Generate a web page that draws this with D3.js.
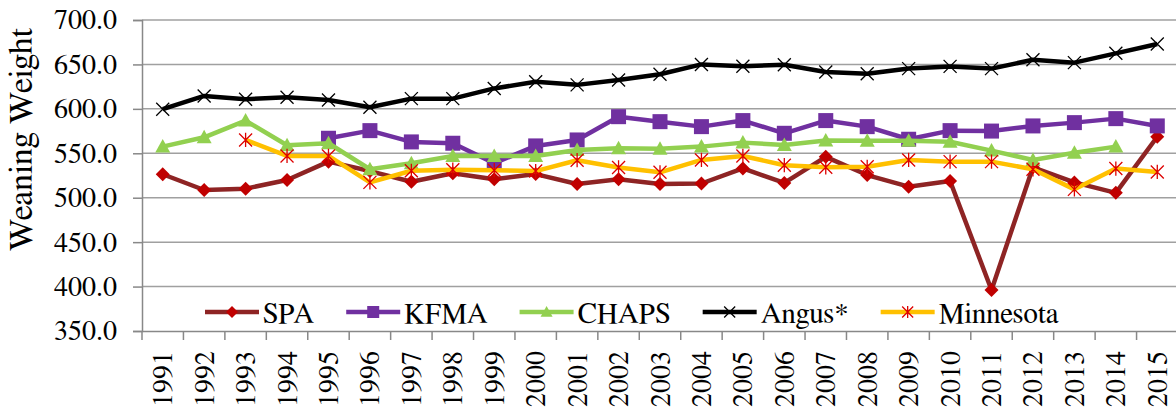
<!DOCTYPE html>
<html>
<head>
<meta charset="utf-8">
<script src="https://cdn.jsdelivr.net/npm/d3@7"></script>
</head>
<body style="margin:0">
<svg id="chart" width="1176" height="409" style="display:block"></svg>
<script>
// values
const years = ["1991","1992","1993","1994","1995","1996","1997","1998","1999","2000","2001","2002","2003",
  "2004","2005","2006","2007","2008","2009","2010","2011","2012","2013","2014","2015"];
const yTicks = [350, 400, 450, 500, 550, 600, 650, 700];

const spa = [526.4, 508.7, 510.2, 520.0, 540.6, 530.0, 518.0, 527.5, 520.7, 526.6, 515.4, 520.7, 515.4,
  516.0, 533.0, 516.7, 546.0, 525.5, 512.4, 518.8, 396.2, 534.2, 517.2, 505.5, 568.6];
const kfma = [null, null, null, null, 566.9, 575.5, 562.8, 561.3, 538.8, 558.3, 565.0, 591.2, 585.6,
  580.0, 586.8, 572.5, 586.8, 580.0, 565.8, 575.5, 575.0, 580.8, 584.5, 589.0, 580.8];
const chaps = [557.5, 568.0, 586.8, 559.0, 561.3, 532.0, 538.8, 547.0, 547.0, 547.0, 553.6, 555.6, 555.0,
  557.5, 562.0, 559.4, 564.5, 564.0, 564.0, 563.0, 553.0, 542.5, 550.7, 557.5, null];
const angus = [599.6, 614.5, 610.8, 613.0, 610.0, 601.8, 611.5, 611.5, 623.0, 630.6, 627.0, 632.5, 639.0,
  650.0, 648.0, 649.7, 641.5, 639.6, 645.3, 647.8, 645.3, 655.3, 652.0, 662.5, 673.0];
const minnesota = [null, null, 565.0, 547.0, 547.0, 517.3, 530.3, 531.5, 531.0, 530.0, 542.2, 534.0, 528.6,
  542.5, 547.0, 536.6, 534.2, 534.8, 542.5, 540.6, 540.6, 532.0, 509.4, 532.8, 529.0];

const series = [
  { name: "SPA", values: spa, line: "#8e2424", marker: "diamond", fill: "#c00000" },
  { name: "KFMA", values: kfma, line: "#7030a0", marker: "square", fill: "#7030a0" },
  { name: "CHAPS", values: chaps, line: "#92d050", marker: "triangle", fill: "#92d050" },
  { name: "Angus*", values: angus, line: "#000000", marker: "x", fill: "#000000" },
  { name: "Minnesota", values: minnesota, line: "#ffc000", marker: "star", fill: "#dd0000" }
];

const FONT = '"FreeSerif", "Liberation Serif", "Times New Roman"';

// canvas used to activate the font and to measure legend labels
const ctx = document.createElement("canvas").getContext("2d");
[28, 29, 34].forEach(sz => { ctx.font = `${sz}px ${FONT}`; ctx.measureText("Weaning Weight 700.0 1991 SPA"); });

const setFont = (sel, size) => sel
  .style("font-family", FONT, "important")
  .style("font-size", size + "px", "important")
  .attr("fill", "#000");

const svg = d3.select("#chart");
const plot = { left: 142, right: 1178, top: 20, bottom: 331 };

const x = d3.scaleBand().domain(years).range([plot.left, plot.right]).padding(0);
const y = d3.scaleLinear().domain([350, 700]).range([plot.bottom, plot.top]);
const cx = d => x(d) + x.bandwidth() / 2;

// gridlines
svg.append("g")
  .selectAll("line")
  .data(yTicks.filter(v => v > 350))
  .enter().append("line")
  .attr("x1", plot.left).attr("x2", plot.right)
  .attr("y1", d => y(d)).attr("y2", d => y(d))
  .attr("stroke", "#a0a0a0").attr("stroke-width", 1.5);

// y axis
const yAxis = svg.append("g")
  .attr("transform", `translate(${plot.left},0)`)
  .call(d3.axisLeft(y).tickValues(yTicks).tickFormat(d3.format(".1f")).tickSize(9).tickPadding(16));
yAxis.attr("font-family", null).attr("font-size", null);
yAxis.select(".domain").attr("stroke", "#888").attr("stroke-width", 1.5);
yAxis.selectAll(".tick line").attr("stroke", "#888").attr("stroke-width", 1.5);
setFont(yAxis.selectAll("text"), 28);

// x axis
const xAxis = svg.append("g")
  .attr("transform", `translate(0,${plot.bottom})`)
  .call(d3.axisBottom(x).tickSize(0).tickPadding(0));
xAxis.attr("font-family", null).attr("font-size", null);
xAxis.select(".domain").attr("stroke", "#888").attr("stroke-width", 1.5);
setFont(xAxis.selectAll("text"), 28)
  .attr("text-anchor", "end")
  .attr("y", 0).attr("dy", "0.34em")
  .attr("transform", "translate(0,20) rotate(-90)");

// tick marks between categories
xAxis.append("g")
  .selectAll("line")
  .data(years.map(d => x(d)).concat([plot.right]))
  .enter().append("line")
  .attr("x1", d => d).attr("x2", d => d)
  .attr("y1", 0).attr("y2", 9)
  .attr("stroke", "#888").attr("stroke-width", 1.5);

// y title
setFont(svg.append("text"), 34)
  .attr("transform", `translate(32,${(plot.top + plot.bottom) / 2 - 36}) rotate(-90)`)
  .attr("text-anchor", "middle")
  .text("Weaning Weight");

function drawMarker(g, type, color, size) {
  const s = size / 2;
  if (type === "diamond") {
    g.append("path").attr("d", `M0,${-s}L${s},0L0,${s}L${-s},0Z`).attr("fill", color);
  } else if (type === "square") {
    g.append("rect").attr("x", -s).attr("y", -s).attr("width", size).attr("height", size).attr("fill", color);
  } else if (type === "triangle") {
    g.append("path").attr("d", `M0,${-s}L${s},${s * 0.8}L${-s},${s * 0.8}Z`).attr("fill", color);
  } else if (type === "x") {
    g.append("path").attr("d", `M${-s},${-s}L${s},${s}M${-s},${s}L${s},${-s}`)
      .attr("stroke", color).attr("stroke-width", 1.3).attr("fill", "none");
  } else if (type === "star") {
    g.append("path").attr("d", `M${-s},${-s}L${s},${s}M${-s},${s}L${s},${-s}M0,${-s * 1.1}L0,${s * 1.1}`)
      .attr("stroke", color).attr("stroke-width", 1.3).attr("fill", "none");
  }
}

const markerSize = { diamond: 14, square: 15, triangle: 15, x: 13, star: 13 };

const line = d3.line()
  .defined(d => d.v != null)
  .x(d => cx(d.year))
  .y(d => y(d.v));

series.forEach(s => {
  const pts = years.map((yr, i) => ({ year: yr, v: s.values[i] }));
  svg.append("path")
    .datum(pts)
    .attr("d", line)
    .attr("fill", "none")
    .attr("stroke", s.line)
    .attr("stroke-width", 4.5)
    .attr("stroke-linejoin", "round");

  svg.append("g")
    .selectAll("g")
    .data(pts.filter(d => d.v != null))
    .enter().append("g")
    .attr("transform", d => `translate(${cx(d.year)},${y(d.v)})`)
    .each(function () { drawMarker(d3.select(this), s.marker, s.fill, markerSize[s.marker]); });
});

// legend
const legend = svg.append("g").attr("transform", "translate(205,312)");
let lx = 0;
series.forEach(s => {
  const item = legend.append("g").attr("transform", `translate(${lx},0)`);
  item.append("line").attr("x1", 0).attr("x2", 54).attr("y1", 0).attr("y2", 0)
    .attr("stroke", s.line).attr("stroke-width", 4.5);
  const m = item.append("g").attr("transform", "translate(27,0)");
  drawMarker(m, s.marker, s.fill, s.marker === "x" || s.marker === "star" ? 11 : 12);
  setFont(item.append("text"), 29).attr("x", 58).attr("y", 11).text(s.name);
  ctx.font = `29px ${FONT}`;
  lx += 58 + ctx.measureText(s.name).width + 32;
});
</script>
</body>
</html>
